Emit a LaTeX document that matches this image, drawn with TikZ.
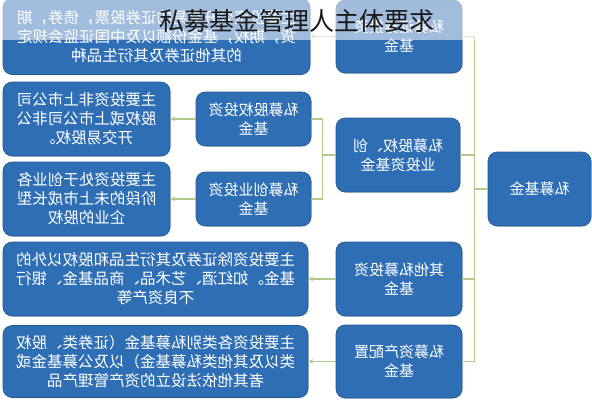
\documentclass[tikz,border=0pt]{standalone}
\usepackage{fontspec}
\newfontfamily\cjk{Noto Sans CJK SC}
\usetikzlibrary{arrows.meta,shadows}
\definecolor{boxblue}{HTML}{2E6EB5}
\definecolor{boxedge}{HTML}{24588F}
\definecolor{linegreen}{HTML}{B3C98C}
\begin{document}
\begin{tikzpicture}[x=1pt,y=-1pt,
  box/.style={draw=boxedge, line width=0.6pt, fill=boxblue, rounded corners=9pt,
    text=white, align=center, inner sep=0pt,
    drop shadow={opacity=0.25, shadow xshift=0.8pt, shadow yshift=-0.8pt},
    font=\cjk\fontsize{15}{19}\selectfont},
  catbox/.style={box, minimum width=126pt, minimum height=73pt},
  subbox/.style={box, minimum width=115pt, minimum height=54pt},
  descbox/.style={box, font=\cjk\fontsize{15.5}{19}\selectfont},
  conn/.style={draw=linegreen, line width=1.2pt},
  arr/.style={conn, -{Stealth[length=5pt,width=5pt]}}]
\useasboundingbox (0,0) rectangle (592,400);
\begin{scope}[shift={(592,0)}, xscale=-1, transform shape]
  % root
  \node[box, minimum width=103pt, minimum height=74pt] (root) at (52.5,189) {私募基金};
  % categories
  \node[catbox] (c1) at (193,36.5) {私募证券投资\\基金};
  \node[catbox, minimum width=124pt, minimum height=74pt] (c2) at (194,155) {私募股权、创\\业投资基金};
  \node[catbox, minimum height=74pt] (c3) at (193,279) {其他私募投资\\基金};
  \node[catbox] (c4) at (193,361.5) {私募资产配置\\基金};
  % sub categories
  \node[subbox] (s1) at (338.5,119) {私募股权投资\\基金};
  \node[subbox] (s2) at (338.5,199) {私募创业投资\\基金};
  % descriptions
  \node[descbox, minimum width=307pt, minimum height=76pt] (e1) at (435.5,36.5)
    {主要投资公开交易的证券股票，债券，期\\货，期权，基金份额以及中国证监会规定\\的其他证券及其衍生品种};
  \node[descbox, minimum width=167pt, minimum height=74pt] (d1) at (505.5,119)
    {主要投资非上市公司\\股权或上市公司非公\\开交易股权。};
  \node[descbox, minimum width=167pt, minimum height=74pt] (d2) at (505.5,199)
    {主要投资处于创业各\\阶段的未上市成长型\\企业的股权};
  \node[descbox, minimum width=305pt, minimum height=74pt] (e3) at (436.5,279)
    {主要投资除证券及其衍生品和股权以外的\\基金。如红酒、艺术品、商品基金、银行\\不良资产等};
  \node[descbox, minimum width=305pt, minimum height=72pt] (e4) at (436.5,361.5)
    {主要投资各类别私募基金（证券类、股权\\类以及其他类私募基金）以及公募基金或\\者其他依法设立的资产管理产品};
  % trunk
  \draw[conn] (root.east) -- ++(13,0) coordinate (tr);
  \draw[conn] (c1.west) -- (c1.west -| tr) -- (c4.west -| tr) -- (c4.west);
  \draw[conn] (c2.west -| tr) -- (c2.west);
  \draw[conn] (c3.west -| tr) -- (c3.west);
  % branch
  \draw[conn] (c2.east) -- ++(13,0) coordinate (br);
  \draw[conn] (s1.west) -- (s1.west -| br) -- (s2.west -| br) -- (s2.west);
  % arrows
  \draw[arr] (c1.east) -- (e1.west);
  \draw[arr] (s1.east) -- (d1.west);
  \draw[arr] (s2.east) -- (d2.west);
  \draw[arr] (c3.east) -- (e3.west);
  \draw[arr] (c4.east) -- (e4.west);
\end{scope}
\fill[white, opacity=0.55] (0,0) rectangle (592,40);
\node[font=\cjk\fontsize{25}{30}\selectfont, text=black!90, inner sep=0pt] (title) at (297,21) {私募基金管理人主体要求};
\end{tikzpicture}
\end{document}
